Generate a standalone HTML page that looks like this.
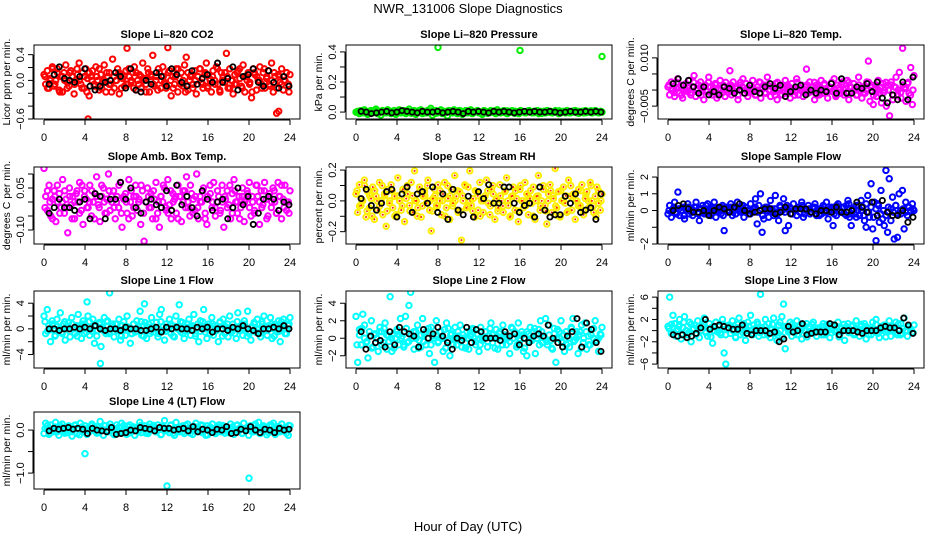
<!DOCTYPE html>
<html><head><meta charset="utf-8"><style>
html,body{margin:0;padding:0;background:#fff;}
svg{display:block;font-family:"Liberation Sans",Arial,sans-serif;}
</style></head><body>
<svg id="chart" width="936" height="540" viewBox="0 0 936 540">
<rect width="936" height="540" fill="#fff"/>
<text x="468" y="13" text-anchor="middle" font-size="13">NWR_131006  Slope Diagnostics</text>
<text x="468" y="531" text-anchor="middle" font-size="13">Hour of Day (UTC)</text>
</svg>
<script>
// ---- data (integer units, multiplied by each panel's scale) ----
const co2Color=[3,-2,5,-4,1,7,-3,0,6,-5,2,-6,4,8,-1,-3,5,2,-7,0,3,9,-2,4,-4,6,1,-8,2,5,-3,7,0,-5,3,-1,8,-6,2,4,-2,11,-4,0,6,-7,3,1,-3,5,-2,2,-1,4,7,-5,0,3,-4,9,1,-2,6,-6,3,13,-3,2,-5,4,0,7,-1,-4,17,5,-8,2,-2,6,-6,1,4,-3,8,12,-5,0,3,-2,5,-7,2,6,-1,-4,3,9,-3,1,-6,5,0,7,-2,-5,4,2,-1,14,-4,6,0,-7,3,-2,5,1,-3,8,-6,2,4,-1,-9,6,3,-5,0,7,-2,4,-4,1,5,-3,9,-6,2,-17,3,-1,6,-5,0,4,-2,3];
const co2Core=[1,-2,0,3,-1,2,-3,1,0,-2,2,1,-1,3,0,-2,1,-3,2,0,-1,1,3,-2,0,2,-1,-3,1,0,2,-2,1,-1,3,0,-2,2,-1,1,0,-3,2,1,-1,0,3,-2,1,-1,2,0,-2,1,3,-1,0,-3,2,1,-2,0,1,3,-1,2,-2,0,1,-1,3,-3,0,2,1,-2,0,-1,2,3,-2,1,0,-1,-3,2,1,0,-2,3,1,-1,0,2,-2,1,-1,0,2,-3];
const co2Black=[-2,3,7,1,0,-1,2,6,-3,-5,-3,-1,0,4,2,-4,6,-5,-6,0,-2,4,2,-3,6,3,-1,-3,5,-2,1,3,-1,9,-1,1,7,-5,2,3,6,-1,-3,5,-1,-4,2,-3];
const co2OutlierHours=[4.3,8.1,22.9];
const co2OutlierValues=[-0.6,0.5,-0.48];
const presColor=[0,1,-2,2,-1,3,0,-3,1,2,-1,0,4,-2,1,-4,2,0,-1,3,1,-2,0,2,-3,1,3,-1,0,2,-2,1,4,0,-1,2,-3,1,0,3,-2,1,-1,2,0,5,-4,1,2,-1,0,3,-2,1,0,-5,2,1,-1,3,0,-2,2,1,-3,0,2,-1,1,3,-2,0,1,2,-1,0,-3,2,1,0,-1,2,0,1,-2,3,0,-1,1,2,0,-2,1,0,2,-1,1,0,-2,2,1,0,-1,1,2,0,-1,1,0,2,-2,1,0,1,-1,2,0,1,-1,0,2,1,-2,1,0,1,-1,2,0,-1,1,0,2,-1,1,0,1,-1,2,0,1,0,-1,1,2,0,-1,1,0];
const presCore=[0,1,-1,2,0,-2,1,0,2,-1,1,0,-1,2,1,-2,0,1,-1,2,0,1,-2,0,1,2,-1,0,1,-1,2,0,-2,1,0,1,-1,2,0,-1,1,0,2,-2,0,1,-1,1,0,2,-1,0,1,-2,1,0,2,-1,0,1,-1,2,0,1,-2,0,1,1,-1,0,2,0,-1,1,0,-2,1,2,0,-1,1,0,2,-1,0,1,-1,0,2,1,-2,0,1,-1,0,2,1,0,-1,1];
const presBlack=[1,0,-2,-1,0,1,-1,0,2,1,0,-1,1,0,0,1,-1,0,1,0,-2,1,0,1,0,-1,1,0,1,0,-1,0,1,0,1,0,0,1,0,-1,0,1,0,0,1,0,1,0];
const presOutlierHours=[8,16,24];
const presOutlierValues=[0.43,0.41,0.37];
const tempColor=[2,-3,5,0,-4,1,7,-2,3,-5,0,4,-1,6,-3,2,9,-4,1,-2,5,0,-6,3,-1,8,2,-3,0,4,-5,1,6,-2,3,-4,0,2,12,-3,5,-1,1,-6,3,0,7,-2,4,-4,1,-1,6,0,-3,2,5,-5,1,3,-2,8,0,-4,2,-1,4,-6,1,3,-3,0,6,-2,2,-5,4,1,-1,7,-3,0,3,-4,2,13,-2,5,-1,0,-6,3,1,-3,6,-2,4,0,-5,2,1,-1,7,-4,3,0,-2,5,-3,1,6,-6,2,-1,4,0,-3,8,1,-5,2,-2,5,18,-7,3,-9,1,-4,6,-2,-8,4,0,-10,3,-16,5,-6,2,8,-3,11,-5,26,1,-7,4,-2,14,-9,9];
const tempCore=[2,0,-1,3,1,-2,2,0,1,-1,3,0,2,-2,1,0,3,-1,1,2,-2,0,1,3,-1,2,0,1,-2,3,1,0,-1,2,1,-2,0,3,1,-1,2,0,1,-2,3,0,1,-1,2,1,0,-2,3,1,0,-1,2,0,1,3,-2,1,0,2,-1,1,3,0,-2,1,2,0,-1,3,1,0,-2,2,1,-1,0,3,1,-2,2,0,1,-1,3,0,2,-2,1,0,-1,2,1,3,-2,0];
const tempBlack=[4,7,3,6,2,-2,2,-3,-1,-3,2,1,-2,0,-2,3,-1,-2,2,4,1,3,-4,-1,2,3,-3,0,-2,0,-1,4,-2,7,-2,-2,2,1,4,-1,5,-5,-8,-3,-6,5,-6,8];
const ambColor=[12,2,-3,6,-5,1,4,-7,0,3,-2,8,-4,1,-11,5,-1,2,-6,3,0,7,-3,-8,4,1,-2,6,-5,0,3,9,-1,-7,2,5,-4,1,10,-3,0,4,-6,2,-2,7,-9,1,3,-4,8,0,-5,2,6,-3,1,-8,4,-14,0,5,-2,3,-6,1,7,-4,-9,2,0,5,-3,8,-1,-6,3,1,-4,6,2,-7,0,4,9,-2,-5,3,1,-3,10,-6,2,0,5,-4,-8,1,3,-2,7,-5,0,2,-3,6,-9,1,4,-1,-6,3,8,0,-4,2,-2,5,-7,1,3,7,-5,0,-3,6,2,-8,4,-1,7,1,-5,3,-2,5,0,-4,7,2,-6,1,6,-3,0,4];
const ambCore=[-1,2,0,-3,1,3,-2,0,2,-1,1,-3,0,2,-2,3,1,-1,0,2,-3,1,-1,3,0,-2,2,1,-1,0,3,-2,1,0,-3,2,-1,1,0,3,-2,0,1,-1,2,-3,0,1,3,-1,-2,2,0,1,-3,1,2,-1,0,3,-2,1,-1,0,2,-3,1,3,0,-1,2,-2,0,1,-1,3,-2,2,0,-3,1,0,2,-1,1,-2,3,0,-1,2,-3,1,0,2,-2,1,3,-1,0,-2];
const ambBlack=[-4,-2,1,-2,-2,-3,0,1,-6,3,2,-6,1,1,7,1,5,-2,-4,0,1,-1,-2,4,-3,6,-1,2,-2,-5,4,1,-3,0,1,-6,-2,5,-1,2,-8,-4,1,2,1,-3,0,-1];
const rhColor=[3,-5,7,-2,0,9,-7,4,-3,1,6,-8,2,-4,8,0,-6,3,-11,5,-1,7,-3,2,-6,10,0,-4,5,-9,1,3,-2,8,-5,13,0,-3,6,-7,2,4,-1,9,-4,-13,1,5,-2,7,0,-6,3,8,-3,1,-8,5,-1,11,2,-5,4,-17,0,7,-3,6,13,-2,1,-7,4,-4,8,0,-5,2,9,-1,-6,5,3,-8,1,-3,7,0,-5,4,10,-2,-7,2,6,-4,1,-9,5,0,-3,8,3,-6,1,-1,6,-8,2,11,-4,0,5,-2,-10,3,7,-5,1,14,-3,4,-7,0,6,-1,-5,9,2,-4,3,-8,0,5,-2,7,-6,1,4,-3,8,0,-5,2,6,-1,-4,3];
const rhCore=[2,-1,0,3,-2,1,-3,2,0,-1,3,1,-2,0,2,-3,1,0,-1,2,3,-2,1,0,-3,2,-1,1,3,0,-2,1,-1,2,0,-3,3,1,-1,0,2,-2,1,3,-1,0,-2,2,1,-3,0,1,2,-1,3,0,-2,1,-1,2,0,-3,1,2,-2,3,0,-1,1,2,-3,0,1,-1,3,-2,0,2,1,-1,-3,2,0,1,-2,3,1,0,-1,2,-2,1,0,3,-1,-3,2,0];
const rhBlack=[1,5,-2,-4,-1,4,5,-7,3,6,-5,3,4,-1,6,-5,3,-8,5,-4,-6,2,-7,4,1,7,-1,-1,6,6,-1,-5,-2,-1,-7,6,-4,-7,-6,-6,2,-1,3,-5,-4,-3,-8,3];
const sampColor=[-2,3,-4,1,5,-1,11,-3,0,2,-5,1,4,-2,0,-3,2,5,-1,-6,1,3,-2,0,4,-1,-3,2,5,-4,0,1,-2,3,-12,2,-1,0,4,-3,1,-2,5,0,-1,3,-4,2,0,-2,4,-1,1,7,-8,3,10,-13,-5,2,0,-4,6,1,-3,9,-1,-6,2,0,7,-12,3,-9,1,-2,4,0,-3,2,-1,5,-4,1,0,3,-2,-1,2,4,-3,0,1,-2,3,-1,5,-5,0,2,-9,1,-3,4,0,-1,2,-2,3,6,-4,-9,1,-2,3,0,-3,6,2,-6,-10,9,-4,16,-11,5,-18,4,-7,12,-5,-9,24,-13,19,-6,8,-17,3,-16,10,-2,12,-11,5,-3,2,-1,4,0];
const sampCore=[0,-1,2,-2,1,0,-3,1,2,-1,0,2,-2,1,-1,3,0,-2,1,0,-1,2,-3,1,0,2,-1,-2,1,0,3,-1,0,-2,1,2,-1,0,-3,1,2,0,-1,1,-2,3,0,-1,1,2,-2,0,1,-1,3,-2,0,1,-1,2,0,-3,1,2,-1,0,1,-2,3,0,-1,2,-3,4,-2,1,-4,3,0,-3,4,-1,2,-4,1,3,-2,0,-3,2,1,-1,3,-2,0,1,-1,2,0,1];
const sampBlack=[0,3,4,1,-1,-1,0,-3,0,2,1,-1,2,4,0,-2,-1,0,1,1,-2,-1,2,-2,1,1,1,-1,-2,0,0,-1,2,-1,-1,0,5,2,-1,5,-3,6,-1,-3,-3,0,-7,-4];
const l1Color=[8,-3,12,2,-8,5,-1,-4,6,0,10,-2,3,-7,1,4,-5,7,0,-3,2,9,-1,-6,5,3,-2,8,-4,0,6,-9,2,-1,4,-11,1,7,-3,5,-2,0,3,-5,3,-1,6,-7,2,0,-4,8,1,-9,-3,3,-2,5,0,11,-4,2,4,-6,1,-3,7,0,-2,4,-5,9,12,-1,-7,3,0,6,-3,2,-5,8,0,15,-2,4,-6,1,-1,6,-4,2,9,-3,0,-8,5,1,12,-2,-6,3,0,7,-4,2,-1,-8,4,0,6,-3,1,-5,8,-2,3,0,-6,10,-1,2,-4,5,0,11,-3,-7,1,4,-2,6,0,-5,3,8,-1,-4,2,7,-6,0,3,-2,5,-8,1,6,-3,0,2,7];
const l1Core=[3,-1,0,2,-3,1,0,-2,3,1,-1,2,0,-3,1,2,-2,0,3,-1,1,-3,2,0,-1,3,-2,1,0,2,-1,-3,3,1,0,-2,2,-1,1,3,-3,0,2,-1,1,0,-2,3,1,-1,0,2,-3,1,0,3,-2,-1,2,1,0,-3,2,-1,3,0,1,-2,2,-1,0,3,-3,1,2,0,-1,-2,3,1,0,2,-3,-1,1,2,0,-2,3,-1,1,0,2,-3,1,-1,3,0,-2,2];
const l1Black=[0,0,-1,0,0,1,0,1,0,2,0,-1,0,0,-1,1,0,0,-1,-1,0,1,-2,1,0,1,0,0,-1,1,0,1,-2,0,0,-1,1,0,2,0,-1,-3,0,0,1,0,2,0];
const l1OutlierHours=[4.2,5.5,6.4,9.8];
const l1OutlierValues=[4.2,-5.4,5.6,3.9];
const l2Color=[10,-11,4,-3,11,6,-2,-9,1,8,-4,2,0,-6,5,3,-2,7,-5,1,19,-6,2,0,4,-3,9,1,-4,10,-2,15,21,0,-5,3,6,-1,-4,9,2,-3,0,-7,5,1,-11,8,-2,3,0,-6,4,7,-1,-8,2,0,5,-3,1,6,-4,0,-2,3,-5,1,4,0,-3,2,-6,5,-1,0,3,-4,1,7,-2,0,4,-5,2,-1,6,0,-3,1,-7,5,0,2,-4,7,-1,3,-6,0,-8,2,5,-1,3,-7,0,4,8,-2,1,9,-3,6,-1,-5,2,-11,4,0,8,-2,-6,3,1,-4,5,9,-1,0,-7,3,6,-2,7,-5,1,-3,4,0,8,-1,-6,2,5];
const l2Core=[-2,1,3,0,-1,2,-3,1,0,2,-2,3,1,-1,0,-3,2,1,0,-2,3,-1,1,2,0,-3,1,-1,2,3,-2,0,1,-1,2,0,-3,3,1,-2,0,2,-1,1,-3,0,2,3,-1,1,-2,0,2,-1,3,1,-3,0,2,-2,1,0,-1,3,2,-2,0,1,-3,2,-1,0,3,1,-2,2,0,-1,1,-3,3,0,2,-1,1,-2,0,3,-1,2,1,-3,0,2,-2,1,3,-1,0,1];
const l2Black=[3,-5,1,-2,-1,-4,3,-3,5,3,2,1,-4,4,0,2,5,1,-2,-5,0,-1,5,-2,4,3,0,0,0,-1,3,1,2,-3,0,-2,1,2,1,6,0,-2,-4,1,3,9,-4,7,4,-2,-6];
const l3Color=[3,24,-2,11,5,-4,1,8,-6,2,10,0,-3,6,-8,1,4,-2,7,-5,0,3,9,-1,-4,5,2,-9,0,6,-1,3,-3,8,-16,-24,1,4,-2,7,0,-5,2,9,-3,1,5,-7,0,3,11,-2,4,-1,6,-4,26,2,-3,8,0,5,-5,1,9,-2,-7,4,0,10,19,-13,3,-1,6,-4,2,0,7,-3,1,-6,4,0,5,-2,3,-1,6,0,-4,2,1,-3,5,0,-2,3,-5,1,4,0,-1,6,-3,2,0,-7,3,5,-1,0,4,-2,7,1,-4,3,0,5,-6,2,1,-3,6,0,8,-2,-5,3,1,4,-1,0,7,-4,2,0,6,-3,1,5,-2,9,0,-4,3,1,-1,4];
const l3Core=[1,3,-1,0,2,-2,4,0,-1,3,1,-2,2,0,3,-1,1,-3,2,4,0,-1,3,-2,1,2,0,-3,3,1,-1,2,4,0,-2,1,3,-1,0,2,-2,1,3,0,-1,4,-3,2,1,0,3,-1,-2,2,1,0,-3,2,3,-1,1,0,2,-2,3,1,-1,0,2,-3,1,3,0,-1,2,-2,1,0,3,-1,2,-2,0,1,3,-1,0,2,-3,1,2,0,-1,3,-2,1,0,2,1,-1];
const l3Black=[-3,-4,-3,-5,-4,-2,2,8,1,3,4,3,2,1,1,4,-2,-3,0,0,0,-2,-1,-8,-6,3,-1,0,5,-3,-2,-1,-1,-1,5,4,-3,0,0,0,-1,-2,0,0,0,2,3,2,2,0,9,4,-2];
const l4Color=[-4,8,2,-5,6,0,-2,9,1,-6,4,7,-1,3,-3,5,0,-7,2,6,-4,1,8,-2,0,5,-5,3,-1,7,2,2,4,-3,10,1,-6,5,0,-2,7,3,-4,1,6,-1,-3,8,0,2,-5,4,6,-2,1,-6,3,0,9,-3,2,5,-1,-4,7,0,1,3,-2,6,1,-5,4,11,-1,2,-3,6,0,-6,9,3,-2,1,5,-4,0,7,-1,2,-5,4,8,-2,0,6,-3,1,-6,5,2,-1,7,0,-4,3,6,-2,1,-1,4,0,-3,7,2,-5,1,6,-1,3,-4,8,0,2,-6,5,1,-2,7,3,9,-4,0,5,-1,2,-3,6,0,8,-5,1,4,-2,7,-1,3,0,-6,5];
const l4Core=[1,3,-2,0,2,-1,3,1,-2,2,0,-1,3,1,-3,2,0,1,-1,3,2,-2,0,1,3,-1,2,0,-3,1,2,-1,3,0,-2,1,2,0,-1,3,1,-2,2,0,3,-1,1,-3,2,0,1,3,-2,1,0,2,-1,3,1,-2,0,2,1,-1,3,0,-3,2,1,-1,2,0,3,-2,1,0,2,-1,3,1,-2,0,1,2,-1,3,0,-2,1,2,-3,0,3,1,-1,2,0,1,-2,3];
const l4Black=[-1,2,1,2,3,1,2,1,-4,2,0,-1,-2,3,-5,-4,-3,0,-1,3,2,1,-1,3,2,2,0,1,2,-1,4,-2,1,0,-3,1,0,4,-4,-3,1,-1,4,0,-3,1,0,-3,2,0,1];
const l4OutlierHours=[4.0,12.0,20.0];
const l4OutlierValues=[-0.55,-1.3,-1.12];
const xTicks=[0,4,8,12,16,20,24];

const NS='http://www.w3.org/2000/svg';
const svg=document.getElementById('chart');
const colL=[34,346,658], colR=[300,612,924];
const rowT=[45,167,291,412], rowB=[119,244,368,489];
const panels=[
 {slug:'li820-co2',title:'Slope Li\u2013820 CO2',ylab:'Licor ppm per min.',c:0,r:0,ymin:-0.6,ymax:0.55,scale:0.03,coreMul:2,col:co2Color,core:co2Core,blk:co2Black,color:'#ff0000',ticks:[-0.6,-0.4,-0.2,0,0.2,0.4],labels:['\u22120.6',null,null,'0.0',null,'0.4'],outH:co2OutlierHours,outV:co2OutlierValues},
 {slug:'li820-pressure',title:'Slope Li\u2013820 Pressure',ylab:'kPa per min.',c:1,r:0,ymin:-0.046,ymax:0.446,scale:0.005,coreMul:0.8,col:presColor,core:presCore,blk:presBlack,color:'#00ee00',ticks:[0,0.1,0.2,0.3,0.4],labels:['0.0',null,'0.2',null,'0.4'],outH:presOutlierHours,outV:presOutlierValues},
 {slug:'li820-temp',title:'Slope Li\u2013820 Temp.',ylab:'degrees C per min.',c:2,r:0,ymin:-0.009,ymax:0.014,scale:0.0005,coreMul:1.6,col:tempColor,core:tempCore,blk:tempBlack,color:'#ff00ff',ticks:[-0.005,0,0.005,0.01],labels:['\u22120.005',null,null,'0.010']},
 {slug:'amb-box-temp',title:'Slope Amb. Box Temp.',ylab:'degrees C per min.',c:0,r:1,ymin:-0.15,ymax:0.125,scale:0.01,coreMul:2,col:ambColor,core:ambCore,blk:ambBlack,color:'#ff00ff',ticks:[-0.1,-0.05,0,0.05,0.1],labels:['\u22120.10',null,null,'0.05',null]},
 {slug:'gas-stream-rh',title:'Slope Gas Stream RH',ylab:'percent per min.',c:1,r:1,ymin:-0.28,ymax:0.22,scale:0.015,coreMul:2.2,col:rhColor,core:rhCore,blk:rhBlack,color:'#ffee00',inner:'#ff2000',ticks:[-0.2,-0.1,0,0.1,0.2],labels:['\u22120.2',null,'0.0',null,'0.2']},
 {slug:'sample-flow',title:'Slope Sample Flow',ylab:'ml/min per min.',c:2,r:1,ymin:-2.0,ymax:2.6,scale:0.1,coreMul:1,col:sampColor,core:sampCore,blk:sampBlack,color:'#0000ff',ticks:[-2,-1,0,1,2],labels:['\u22122',null,'0','1','2']},
 {slug:'line1-flow',title:'Slope Line 1 Flow',ylab:'ml/min per min.',c:0,r:2,ymin:-6.1,ymax:5.9,scale:0.25,coreMul:1.5,col:l1Color,core:l1Core,blk:l1Black,color:'#00ffff',ticks:[-4,-2,0,2,4],labels:['\u22124',null,'0',null,'4'],outH:l1OutlierHours,outV:l1OutlierValues},
 {slug:'line2-flow',title:'Slope Line 2 Flow',ylab:'ml/min per min.',c:1,r:2,ymin:-3.4,ymax:5.4,scale:0.25,coreMul:1.5,col:l2Color,core:l2Core,blk:l2Black,color:'#00ffff',ticks:[-2,0,2,4],labels:['\u22122','0','2','4']},
 {slug:'line3-flow',title:'Slope Line 3 Flow',ylab:'ml/min per min.',c:2,r:2,ymin:-6.7,ymax:7.1,scale:0.25,coreMul:1.5,col:l3Color,core:l3Core,blk:l3Black,color:'#00ffff',ticks:[-6,-4,-2,0,2,4,6],labels:['\u22126',null,'\u22122',null,'2',null,'6']},
 {slug:'line4-lt-flow',title:'Slope Line 4 (LT) Flow',ylab:'ml/min per min.',c:0,r:3,ymin:-1.37,ymax:0.42,scale:0.02,coreMul:1.8,col:l4Color,core:l4Core,blk:l4Black,color:'#00ffff',ticks:[-1,-0.5,0],labels:['\u22121.0',null,'0.0'],outH:l4OutlierHours,outV:l4OutlierValues}
];
function mk(tag,attrs,parent){const e=document.createElementNS(NS,tag);for(const k in attrs)e.setAttribute(k,attrs[k]);(parent||svg).appendChild(e);return e;}
panels.forEach(p=>{
 const L=colL[p.c],R=colR[p.c],T=rowT[p.r],B=rowB[p.r];
 const g=mk('g',{});
 
 
 const xs=h=>L+10+(R-L-20)*h/24;
 const ys=v=>B-(v-p.ymin)/(p.ymax-p.ymin)*(B-T);
 const clip='clip-'+p.slug;
 const cp=mk('clipPath',{id:clip},g);mk('rect',{x:L,y:T,width:R-L,height:B-T},cp);
 const pts=mk('g',{'clip-path':'url(#'+clip+')'},g);
 
 
 function dot(x,y){
  const c=mk('circle',{cx:x,cy:y,r:2.7,fill:'none',stroke:p.color,'stroke-width':2},pts);
  
  
  if(p.inner){const d=mk('circle',{cx:x,cy:y,r:1,fill:p.inner},pts);
   
   }
 }
 const k=p.core.length;
 p.core.forEach((v,i)=>dot(xs(0.1+i*23.8/(k-1)),ys(v*p.scale*p.coreMul)));
 const n=p.col.length;
 p.col.forEach((v,i)=>dot(xs(i*24/(n-1)),ys(v*p.scale)));
 if(p.outH)p.outH.forEach((h,i)=>dot(xs(h),ys(p.outV[i])));
 const m=p.blk.length;
 p.blk.forEach((v,i)=>{
  const c=mk('circle',{cx:xs(0.5+i*23.4/(m-1)),cy:ys(v*p.scale),r:2.6,fill:'none',stroke:'#000','stroke-width':1.8},pts);
  
  
 });
 const box=mk('rect',{x:L,y:T,width:R-L,height:B-T,fill:'none',stroke:'#000','stroke-width':1},g);
 
 
 const t=mk('text',{x:(L+R)/2,y:T-7,'text-anchor':'middle','font-size':11,'font-weight':'bold'},g);t.textContent=p.title;
 
 
 const ax=mk('line',{x1:xs(0),x2:xs(24),y1:B+1,y2:B+1,stroke:'#000'},g);
 
 
 xTicks.forEach(h=>{
  mk('line',{x1:xs(h),x2:xs(h),y1:B+1,y2:B+6,stroke:'#000'},g);
  const lt=mk('text',{x:xs(h),y:B+22,'text-anchor':'middle','font-size':11},g);lt.textContent=h;
  
  
 });
 const ay=mk('line',{x1:L-1,x2:L-1,y1:ys(p.ticks[0]),y2:ys(p.ticks[p.ticks.length-1]),stroke:'#000'},g);
 
 
 p.ticks.forEach((v,i)=>{
  const y=ys(v);
  mk('line',{x1:L-6,x2:L-1,y1:y,y2:y,stroke:'#000'},g);
  if(p.labels[i]){const lt=mk('text',{x:L-10,y:y,'text-anchor':'middle','font-size':11,transform:'rotate(-90 '+(L-10)+' '+y+')'},g);lt.textContent=p.labels[i];
   
   }
 });
 const yl=mk('text',{x:L-24,y:(T+B)/2,'text-anchor':'middle','font-size':10.5,transform:'rotate(-90 '+(L-24)+' '+((T+B)/2)+')'},g);yl.textContent=p.ylab;
 
 
});
</script>
</body></html>
